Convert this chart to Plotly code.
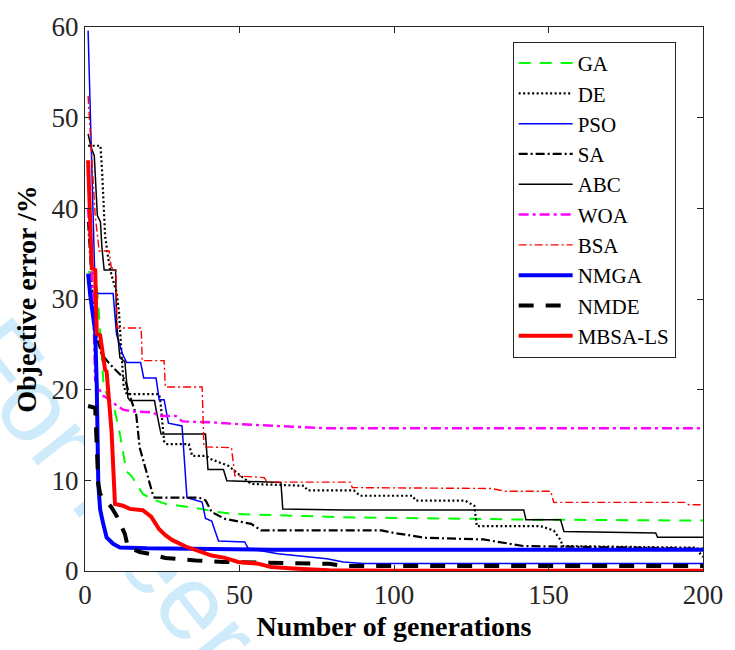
import plotly.graph_objects as go

# Convergence histories (generation, objective error %) for each optimiser
ga_gen = [1, 3.5, 4.5, 5, 6, 7.5, 9.7, 11.3, 13.4, 15, 18.7, 21.9, 26.2, 34.7, 40, 43.2, 47.4, 83.6, 126, 142, 200]
ga_err = [33.0, 32.8, 28.5, 26.0, 20.6, 19.0, 17.6, 15.1, 11.0, 10.5, 8.5, 7.9, 7.4, 7.0, 6.66, 6.5, 6.3, 5.93, 5.75, 5.67, 5.56]

de_gen = [1, 5, 5.5, 6, 6.5, 7.5, 8.6, 10.2, 11, 11.5, 12, 12.5, 13.5, 24, 24.5, 25.6, 26.2, 33.6, 34.7, 39, 41, 46.4,
          49.6, 53.8, 70.9, 72, 87, 89, 106, 107, 123, 126, 126.8, 147.5, 151.7, 154, 154.5, 197.5, 200]
de_err = [46.9, 46.9, 44.3, 40.7, 37.0, 34.5, 32.6, 30.8, 28.6, 25.7, 22.8, 20.4, 19.5, 19.5, 18.4, 14.3, 14.0, 14.0,
          12.7, 12.7, 12.3, 11.6, 10.7, 9.6, 9.4, 8.9, 8.9, 8.3, 8.3, 7.76, 7.76, 7.2, 4.94, 4.94, 4.47, 3.37, 2.75, 2.57, 1.54]

pso_gen = [1, 3.3, 4.3, 9.1, 10.2, 12.3, 13.5, 18, 19, 23, 24, 25.6, 27, 31.4, 33, 37.9, 39, 41, 43.2, 51.7, 52.8,
           62.4, 78.3, 83.6, 90, 200]
pso_err = [59.6, 30.8, 30.6, 30.6, 26.1, 23.8, 23.0, 23.0, 21.3, 21.3, 18.9, 18.9, 16.3, 16.0, 8.1, 7.6, 5.8, 5.5,
           3.3, 3.2, 2.5, 1.9, 1.36, 1.0, 0.82, 0.82]

sa_gen = [1, 2, 3, 3.8, 5.4, 8.1, 11.3, 13, 14.5, 16.6, 17.7, 19.8, 21.9, 22.5, 36.8, 39, 41, 45.3, 53.8, 57, 96,
          100, 110, 129, 138, 142, 174, 200]
sa_err = [38.5, 33.0, 27.5, 25.7, 23.9, 22.8, 21.7, 21.1, 19.3, 17.2, 13.6, 11.0, 8.5, 8.1, 8.1, 7.8, 6.5, 5.75,
          5.2, 4.47, 4.47, 4.2, 3.67, 3.48, 3.0, 2.75, 2.6, 2.46]

abc_gen = [1, 2, 3, 4, 5, 5.5, 6.2, 9.9, 10.2, 11.3, 12.9, 13.9, 14.5, 22.5, 23, 24.6, 39, 39.8, 44.8, 45.9, 63.4,
           64, 83.6, 142, 142.7, 153.9, 155, 184.7, 185.3, 200]
abc_err = [48.2, 46.7, 45.8, 39.2, 38.5, 35.6, 33.2, 33.2, 27.5, 23.5, 23.1, 19.1, 18.8, 18.8, 17.8, 15.1, 15.1,
           11.2, 11.2, 9.95, 9.77, 6.85, 6.74, 6.74, 5.64, 5.64, 4.36, 4.2, 3.73, 3.73]

woa_gen = [1, 2.5, 3.3, 4.3, 6, 7, 9.7, 12.3, 15.5, 21.9, 24, 29.4, 31.5, 41, 49.6, 62.4, 78.3, 200]
woa_err = [40.0, 31.0, 21.0, 20.2, 19.3, 19.1, 18.4, 17.8, 17.6, 17.5, 17.1, 17.1, 16.5, 16.4, 16.2, 16.0, 15.74, 15.74]

bsa_gen = [1, 2, 3.3, 4.6, 7.8, 8.5, 10, 10.4, 18.2, 18.5, 25.6, 26, 37.9, 38.5, 47.4, 48.5, 58, 59, 85.8, 86.5,
           131.5, 136, 150.7, 151.7, 194, 195.4, 200]
bsa_err = [52.4, 46.5, 39.2, 35.3, 35.3, 33.5, 33.2, 26.8, 26.8, 23.2, 23.2, 20.3, 20.3, 13.7, 13.6, 10.5, 10.3,
           9.8, 9.8, 9.2, 9.1, 8.8, 8.8, 7.57, 7.57, 7.3, 7.3]

nmga_gen = [1, 1.7, 3.3, 3.8, 4.3, 4.9, 5.9, 7, 9.1, 11.3, 20, 30, 60, 200]
nmga_err = [32.8, 30.4, 26.4, 20.6, 9.6, 6.8, 5.2, 3.7, 3.0, 2.6, 2.5, 2.45, 2.35, 2.35]

nmde_gen = [1, 3.3, 4.3, 4.9, 8.6, 10.2, 12.9, 13.9, 17.7, 20.8, 26, 30.4, 35.8, 45, 79, 84, 200]
nmde_err = [18.2, 18.0, 9.6, 8.5, 7.0, 6.1, 4.1, 2.6, 2.1, 1.9, 1.43, 1.36, 1.17, 1.0, 0.8, 0.55, 0.55]

mbsa_gen = [1, 2.2, 3.3, 3.8, 4.9, 6.5, 7, 8.6, 9.7, 12.3, 14.5, 18.7, 21.4, 24, 26.2, 28.3, 32.6, 35.8, 41, 45.3,
            49.6, 56, 60.2, 68.7, 79, 100, 200]
mbsa_err = [45.3, 33.4, 33.2, 26.2, 26.0, 22.2, 22.0, 15.4, 7.4, 7.2, 6.85, 6.7, 6.0, 4.6, 3.9, 3.4, 2.7, 2.3, 1.7,
            1.45, 1.0, 0.81, 0.44, 0.26, 0.08, 0.03, 0.02]

x_ticks = [0, 50, 100, 150, 200]
y_ticks = [0, 10, 20, 30, 40, 50, 60]

series = [
    ("GA", ga_gen, ga_err, "#00ff00", 2.0, "12px,9px"),
    ("DE", de_gen, de_err, "#000000", 2.2, "2px,2.5px"),
    ("PSO", pso_gen, pso_err, "#0000ff", 1.5, "solid"),
    ("SA", sa_gen, sa_err, "#000000", 2.2, "9px,3px,2px,3px"),
    ("ABC", abc_gen, abc_err, "#000000", 1.5, "solid"),
    ("WOA", woa_gen, woa_err, "#ff00ff", 2.4, "10px,4px,3px,4px"),
    ("BSA", bsa_gen, bsa_err, "#ff0000", 1.4, "8px,3px,2px,3px"),
    ("NMGA", nmga_gen, nmga_err, "#0000ff", 4.0, "solid"),
    ("NMDE", nmde_gen, nmde_err, "#000000", 4.0, "15px,12px"),
    ("MBSA-LS", mbsa_gen, mbsa_err, "#ff0000", 4.0, "solid"),
]

fig = go.Figure()
for name, gen, err, color, width, dash in series:
    fig.add_trace(go.Scatter(
        x=gen, y=err, mode="lines", name=name,
        line=dict(color=color, width=width, dash=dash),
    ))

serif = "Liberation Serif"
axis_color = "#262626"

axis_common = dict(
    showline=True, linecolor=axis_color, linewidth=1, mirror="ticks",
    ticks="inside", ticklen=6, tickwidth=1, tickcolor=axis_color,
    showgrid=False, zeroline=False,
    tickfont=dict(family=serif, size=27, color=axis_color),
)

fig.update_layout(
    width=735, height=650,
    margin=dict(l=85, r=23, t=24, b=79),
    paper_bgcolor="white", plot_bgcolor="white",
    font=dict(family=serif, color=axis_color),
    xaxis=dict(
        range=[0, 200], tickvals=x_ticks, **axis_common,
        title=dict(text="<b>Number of generations</b>", font=dict(family=serif, size=28, color="#000000"),
                   standoff=6),
    ),
    yaxis=dict(
        range=[0, 60], tickvals=y_ticks, **axis_common,
        title=dict(text="<b>Objective error /%</b>", font=dict(family=serif, size=28, color="#000000"),
                   standoff=6),
    ),
    legend=dict(
        x=0.692, y=0.9726, xanchor="left", yanchor="top",
        bgcolor="white", bordercolor=axis_color, borderwidth=1,
        font=dict(family=serif, size=21, color="#000000"),
        itemwidth=54, tracegroupgap=0,
        entrywidth=122, entrywidthmode="pixels",
    ),
    shapes=[
        # review watermark, drawn beneath the axes background
        dict(type="rect", xref="paper", yref="paper",
             x0=0.23, x1=0.25, y0=-0.127, y1=-0.107, layer="below",
             line=dict(width=0, color="rgba(0,0,0,0)"), fillcolor="rgba(0,0,0,0)",
             label=dict(text="For Peer Review", textangle=51.3, textposition="middle center",
                        font=dict(family="Liberation Sans", size=106, color="#cdebfa"))),
        # opaque axes area hiding the watermark inside the plot box
        dict(type="rect", xref="paper", yref="paper", x0=0, x1=1, y0=0, y1=1, layer="below",
             line=dict(width=0), fillcolor="white"),
    ],
)

fig.write_html("out.html")
